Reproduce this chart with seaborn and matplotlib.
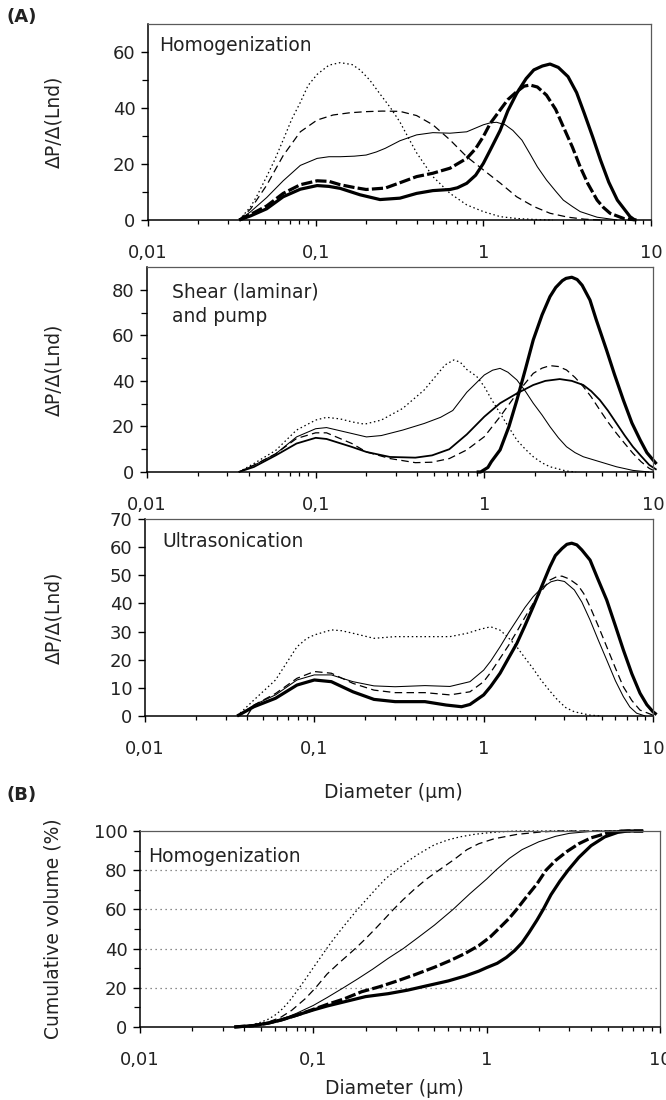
import numpy as np
import pandas as pd
import matplotlib
matplotlib.use("Agg")
import matplotlib.pyplot as plt
from matplotlib.ticker import FixedLocator, FixedFormatter, NullFormatter, LogLocator
import seaborn as sns

# ---------------- data ----------------
x_tick_vals = [0.01, 0.1, 1, 10]
x_tick_labels = ["0,01", "0,1", "1", "10"]

# Panel A1 : Homogenization (size distribution)
h_dot_x = [0.035, 0.041, 0.045, 0.051, 0.057, 0.064, 0.072, 0.081, 0.09, 0.102, 0.12, 0.14, 0.165, 0.184, 0.21, 0.242, 0.28, 0.318, 0.36, 0.40, 0.45, 0.50, 0.633, 0.796, 1.0, 1.26, 1.6, 2.0, 2.6]
h_dot_y = [0, 4.8, 9, 15.5, 21.5, 28.6, 36, 42, 48, 52, 55.3, 56.2, 55.5, 53.6, 50, 45, 40, 35, 29, 24, 19.5, 15.5, 9.5, 5.4, 3, 1.2, 0.5, 0.2, 0]
h_dash_x = [0.035, 0.041, 0.051, 0.064, 0.081, 0.102, 0.127, 0.16, 0.2, 0.25, 0.318, 0.40, 0.5, 0.633, 0.796, 1.0, 1.26, 1.58, 2.0, 2.5, 3.2, 4.0, 5.0]
h_dash_y = [0, 4, 12.4, 23, 31.5, 35.7, 37.5, 38.3, 38.7, 38.9, 38.8, 37.3, 34, 28.6, 22.6, 17.9, 13.2, 8.3, 4.8, 2.4, 1, 0.3, 0]
h_thin_x = [0.035, 0.041, 0.051, 0.064, 0.081, 0.102, 0.12, 0.14, 0.17, 0.2, 0.23, 0.26, 0.318, 0.4, 0.5, 0.633, 0.796, 1.0, 1.1, 1.2, 1.35, 1.5, 1.7, 1.89, 2.1, 2.38, 2.7, 3.0, 3.4, 3.78, 4.77, 6.3]
h_thin_y = [0, 3, 8, 14, 19.5, 22, 22.6, 22.6, 22.8, 23.2, 24.3, 25.6, 28.3, 30.4, 31.2, 31, 31.5, 34, 34.7, 34.9, 34, 32, 28.5, 23.8, 19, 14.3, 10.3, 7.1, 4.8, 3, 1, 0]
h_thickdash_x = [0.035, 0.041, 0.051, 0.064, 0.081, 0.102, 0.12, 0.14, 0.17, 0.2, 0.26, 0.318, 0.4, 0.5, 0.633, 0.796, 0.9, 1.0, 1.1, 1.26, 1.4, 1.58, 1.75, 1.9, 2.1, 2.38, 2.7, 3.0, 3.4, 3.78, 4.2, 4.77, 5.2, 5.7, 6.9, 8.2]
h_thickdash_y = [0, 2, 5, 9.5, 12.6, 14, 13.8, 12.6, 11.6, 10.9, 11.4, 13.3, 15.5, 16.7, 18.5, 22, 25.5, 29.8, 34.5, 39.3, 43, 45.8, 47.8, 48.2, 47.5, 44.6, 39.5, 33.3, 26, 19, 13, 7.1, 4.5, 2.4, 0.5, 0]
h_thick_x = [0.035, 0.041, 0.051, 0.064, 0.081, 0.102, 0.12, 0.14, 0.184, 0.242, 0.318, 0.4, 0.5, 0.633, 0.7, 0.796, 0.9, 1.0, 1.1, 1.26, 1.4, 1.58, 1.8, 2.0, 2.25, 2.5, 2.8, 3.2, 3.6, 4.0, 4.5, 5.0, 5.6, 6.3, 7.5, 8.0]
h_thick_y = [0, 1.5, 4, 8.3, 11, 12.3, 12, 11.3, 9, 7.3, 7.8, 9.5, 10.5, 10.9, 11.5, 13.1, 16, 20.2, 25, 32, 39, 45.2, 50.5, 53.6, 55, 55.7, 54.5, 51.2, 45.5, 38.1, 29.5, 21.4, 13.5, 7.1, 1.2, 0]

# Panel A2 : Shear (laminar) and pump
s_dot_x = [0.035, 0.043, 0.058, 0.077, 0.1, 0.116, 0.14, 0.164, 0.195, 0.245, 0.328, 0.44, 0.585, 0.66, 0.72, 0.787, 0.9, 1.0, 1.1, 1.24, 1.4, 1.56, 1.75, 1.95, 2.2, 2.45, 3.07, 3.5]
s_dot_y = [0, 3.7, 9.5, 18.4, 22.8, 24, 23.3, 22, 21, 22.8, 27.9, 36, 47, 49.2, 48.2, 45, 42, 37.5, 32, 25.8, 19.5, 14, 10, 6.7, 4, 2.3, 0.4, 0]
s_thin_x = [0.035, 0.043, 0.058, 0.077, 0.1, 0.116, 0.164, 0.2, 0.245, 0.328, 0.44, 0.55, 0.65, 0.787, 1.0, 1.12, 1.24, 1.38, 1.56, 1.75, 1.95, 2.2, 2.45, 2.75, 3.07, 3.45, 3.86, 4.84, 6.07, 7.6, 9.5]
s_thin_y = [0, 2.9, 8, 15.4, 19, 19.5, 16.9, 15.4, 16, 18.4, 21.3, 24, 27, 35, 42.6, 44.7, 45.5, 43.8, 40.4, 35.5, 30.2, 25, 19.9, 15, 11.1, 8.5, 6.7, 4.5, 2.3, 0.7, 0]
s_dash_x = [0.035, 0.043, 0.058, 0.077, 0.1, 0.116, 0.164, 0.2, 0.276, 0.39, 0.49, 0.62, 0.787, 1.0, 1.24, 1.56, 1.95, 2.2, 2.45, 2.75, 3.07, 3.45, 3.86, 4.3, 4.84, 5.4, 6.07, 6.8, 7.6, 8.5, 9.5, 10]
s_dash_y = [0, 3, 8, 14.7, 17.2, 17.2, 12.5, 8.8, 5.9, 4.1, 4.3, 5.9, 9.7, 15.5, 24.3, 34.5, 43.3, 45.6, 46.7, 46.3, 44.8, 41.5, 37.5, 33, 27.2, 22, 17, 12.5, 8.2, 4.5, 1.6, 0.8]
s_med_x = [0.035, 0.043, 0.058, 0.077, 0.1, 0.116, 0.164, 0.2, 0.276, 0.39, 0.49, 0.62, 0.787, 1.0, 1.24, 1.56, 1.95, 2.3, 2.8, 3.3, 3.86, 4.3, 4.84, 5.4, 6.07, 6.8, 7.6, 8.5, 9.5, 10.5]
s_med_y = [0, 2.2, 7.3, 12.5, 15, 14.5, 11, 8.8, 6.6, 6.3, 7.3, 10, 16.5, 24.3, 30.2, 34.5, 38.2, 40, 40.8, 40, 38.2, 35.5, 31.6, 27, 21.4, 16, 11.1, 7, 3.1, 1]
s_thick_x = [0.9, 0.95, 1.05, 1.1, 1.24, 1.4, 1.56, 1.75, 1.95, 2.2, 2.45, 2.65, 2.9, 3.05, 3.3, 3.55, 3.8, 4.23, 4.6, 5.3, 5.9, 6.67, 7.5, 8.4, 9.2, 10, 10.5]
s_thick_y = [0, 0, 2, 4.5, 9.7, 20, 31.6, 45, 58, 69, 77, 81, 84, 85, 85.5, 84.5, 82, 75.5, 67, 53.6, 43, 31.6, 21.5, 14, 8.5, 5.3, 3.5]

# Panel A3 : Ultrasonication
u_dot_x = [0.035, 0.044, 0.059, 0.079, 0.09, 0.1, 0.126, 0.145, 0.169, 0.225, 0.3, 0.45, 0.632, 0.8, 0.95, 1.1, 1.25, 1.38, 1.55, 1.73, 1.95, 2.18, 2.45, 2.73, 3.05, 3.43, 4.25, 5.0]
u_dot_y = [0, 5.7, 12.8, 24.6, 27.5, 28.8, 30.6, 30.3, 29.4, 27.6, 28.2, 28.2, 28.2, 29.4, 30.8, 31.7, 30.5, 28.2, 25, 21.1, 17, 12.8, 9, 5.7, 3, 1.5, 0.3, 0]
u_thin_x = [0.035, 0.044, 0.059, 0.079, 0.1, 0.126, 0.169, 0.225, 0.3, 0.45, 0.632, 0.83, 1.0, 1.1, 1.25, 1.4, 1.57, 1.75, 1.96, 2.2, 2.5, 2.73, 3.0, 3.43, 3.8, 4.25, 4.75, 5.33, 6.0, 6.68, 7.3, 8.0, 9.0]
u_thin_y = [0, 3.9, 7.5, 12.8, 14.6, 14.6, 12.2, 10.7, 10.4, 10.8, 10.5, 12.2, 16.3, 19.5, 24.6, 29.5, 34.1, 38.5, 42.4, 45.5, 47.7, 48.3, 47.8, 44.8, 40.5, 34.1, 27, 19.9, 12.5, 6.9, 3.2, 1, 0]
u_dash_x = [0.04, 0.044, 0.059, 0.079, 0.1, 0.126, 0.169, 0.225, 0.3, 0.45, 0.632, 0.83, 1.0, 1.1, 1.25, 1.4, 1.57, 1.75, 1.96, 2.2, 2.46, 2.7, 2.9, 3.2, 3.6, 3.9, 4.25, 4.75, 5.33, 6.0, 6.68, 7.5, 8.38, 10.0]
u_dash_y = [0, 3.9, 8, 13.4, 15.8, 15.2, 11.6, 9.2, 8.3, 8.3, 7.5, 8.6, 12.2, 15.5, 20.5, 25, 30, 35, 40, 44.5, 48.3, 49.5, 49.7, 48.7, 46.5, 43.5, 38.8, 32, 24.6, 17, 10.4, 5.5, 2.1, 0.3]
u_thick_x = [0.035, 0.044, 0.059, 0.079, 0.1, 0.126, 0.169, 0.225, 0.3, 0.45, 0.6, 0.74, 0.83, 1.0, 1.1, 1.25, 1.4, 1.57, 1.75, 1.96, 2.2, 2.46, 2.65, 2.9, 3.1, 3.31, 3.55, 3.8, 4.25, 4.7, 5.33, 6.0, 6.68, 7.5, 8.38, 9.2, 10.0, 10.5]
u_thick_y = [0, 3.3, 6.3, 11, 12.8, 12.2, 8.6, 5.9, 5.1, 5.1, 3.9, 3.3, 4.1, 7.5, 10.5, 15.2, 20.5, 25.8, 32, 38.8, 46, 53, 57, 59.5, 61, 61.4, 60.8, 59, 55.4, 49, 41.2, 32, 23.5, 15, 8.1, 4, 1.5, 0.5]

# Panel B : Homogenization, cumulative volume
c_dot_x = [0.035, 0.04, 0.045, 0.05, 0.055, 0.06, 0.065, 0.07, 0.075, 0.083, 0.09, 0.1, 0.11, 0.12, 0.13, 0.15, 0.165, 0.18, 0.2, 0.23, 0.26, 0.3, 0.35, 0.4, 0.5, 0.6, 0.7, 0.85, 1.0, 1.2, 1.5, 8.0]
c_dot_y = [0, 0.5, 1.3, 2.5, 4, 6, 8.5, 11.5, 14.7, 20, 24.4, 30.3, 35.5, 40.3, 44.5, 51.5, 56, 60, 64.5, 70.5, 75.5, 80, 84.5, 88, 93, 95.5, 97, 98.3, 99, 99.6, 100, 100]
c_dash_x = [0.035, 0.045, 0.055, 0.065, 0.075, 0.09, 0.103, 0.12, 0.14, 0.16, 0.177, 0.2, 0.23, 0.26, 0.29, 0.33, 0.38, 0.45, 0.54, 0.65, 0.77, 0.9, 1.1, 1.5, 2.0, 2.5, 8.0]
c_dash_y = [0, 0.8, 2.5, 5, 8.5, 14.5, 20, 27, 32.5, 37, 40.5, 45, 50.5, 55.5, 60, 65, 70, 75.5, 80.5, 85.5, 90.5, 93.5, 96, 98.3, 99.4, 100, 100]
c_thin_x = [0.035, 0.045, 0.055, 0.065, 0.08, 0.1, 0.12, 0.149, 0.18, 0.22, 0.27, 0.33, 0.4, 0.5, 0.64, 0.8, 1.0, 1.13, 1.35, 1.6, 2.0, 2.5, 3.0, 4.0, 5.0, 8.0]
c_thin_y = [0, 0.7, 2, 3.8, 7, 11, 15, 20, 24.5, 29.5, 35, 40, 45.5, 52, 60, 68, 75.5, 80, 86, 90.5, 94.5, 97.3, 98.8, 99.8, 100, 100]
c_thickdash_x = [0.035, 0.045, 0.055, 0.065, 0.08, 0.1, 0.12, 0.15, 0.19, 0.24, 0.3, 0.38, 0.5, 0.62, 0.75, 0.9, 1.05, 1.2, 1.35, 1.49, 1.7, 1.95, 2.2, 2.5, 2.9, 3.4, 4.0, 5.0, 6.0, 8.0]
c_thickdash_y = [0, 0.7, 2, 3.6, 6, 9, 11.5, 14.3, 18, 20.5, 23.3, 26.5, 30.5, 34, 37.5, 41.5, 46, 51, 55.5, 60, 66.5, 73, 80, 85, 89.5, 93.5, 96.5, 99, 100, 100]
c_thick_x = [0.035, 0.045, 0.055, 0.065, 0.08, 0.1, 0.12, 0.15, 0.2, 0.27, 0.35, 0.45, 0.6, 0.75, 0.9, 1.0, 1.15, 1.3, 1.45, 1.6, 1.75, 1.95, 2.12, 2.35, 2.65, 2.95, 3.4, 4.0, 4.8, 5.7, 6.5, 8.0]
c_thick_y = [0, 0.7, 2, 3.5, 6, 8.7, 10.7, 12.8, 15.5, 17, 18.8, 21, 23.5, 26, 28.5, 30.3, 32.5, 35.5, 39, 43, 48, 54.5, 60, 67.5, 74.5, 80, 86.5, 92.5, 97, 99.3, 100, 100]

# ---------------- styling ----------------
sns.set_style("ticks")
plt.rcParams['font.family'] = ['DejaVu Sans']
plt.rcParams['axes.linewidth'] = 1.0

STY = {
    'dot':       dict(lw=0.9, ls=(0, (1.2, 2.2))),
    'dash':      dict(lw=0.9, ls=(0, (6, 3.5))),
    'thin':      dict(lw=0.75, ls='-'),
    'med':       dict(lw=1.3, ls='-'),
    'thickdash': dict(lw=2.3, ls=(0, (3.5, 1.0))),
    'thick':     dict(lw=2.3, ls='-'),
}
TXT = '#222222'

W, H = 666, 1100
fig = plt.figure(figsize=(W / 100, H / 100), dpi=100)


def ax_at(l, t, r, b):
    return fig.add_axes([l / W, 1 - b / H, (r - l) / W, (b - t) / H])


def draw(ax, series):
    for xs, ys, st in series:
        df = pd.DataFrame({"d": xs, "v": ys})
        sns.lineplot(data=df, x="d", y="v", ax=ax, color="black",
                     linewidth=STY[st]['lw'], linestyle=STY[st]['ls'],
                     clip_on=False, solid_capstyle='butt', dash_capstyle='butt',
                     solid_joinstyle='round')


def style_axes(ax, ymax, ymajor, yminor, ylabel, label_x):
    ax.set_xscale('log')
    ax.set_xlim(0.01, 10)
    ax.set_ylim(0, ymax)
    ax.xaxis.set_major_locator(FixedLocator(x_tick_vals))
    ax.xaxis.set_major_formatter(FixedFormatter(x_tick_labels))
    ax.xaxis.set_minor_locator(LogLocator(base=10, subs=np.arange(2, 10)))
    ax.xaxis.set_minor_formatter(NullFormatter())
    ax.yaxis.set_major_locator(FixedLocator(ymajor))
    ax.yaxis.set_minor_locator(FixedLocator(yminor))
    ax.tick_params(axis='x', which='major', direction='out', length=4, width=1.0,
                   labelsize=13, pad=13.5, color='black', labelcolor=TXT)
    ax.tick_params(axis='x', which='minor', direction='out', length=3, width=0.9, color='black')
    ax.tick_params(axis='y', which='major', direction='out', length=5, width=1.0,
                   labelsize=13, pad=4, color='black', labelcolor=TXT)
    ax.tick_params(axis='y', which='minor', direction='out', length=4, width=0.9, color='black')
    for s in ['left', 'bottom']:
        ax.spines[s].set_color('black')
        ax.spines[s].set_linewidth(1.1)
    for s in ['top', 'right']:
        ax.spines[s].set_visible(True)
        ax.spines[s].set_color('#5a5a5a')
        ax.spines[s].set_linewidth(0.9)
    ax.set_xlabel('')
    ax.set_ylabel(ylabel, fontsize=13.5, color=TXT)
    ax.yaxis.set_label_coords(label_x, 0.5)


def ftext(x, y, s, **kw):
    fig.text(x / W, 1 - y / H, s, color=TXT, **kw)


# Panel A1
ax1 = ax_at(148, 24, 651, 220)
draw(ax1, [(h_dot_x, h_dot_y, 'dot'), (h_dash_x, h_dash_y, 'dash'),
           (h_thin_x, h_thin_y, 'thin'), (h_thickdash_x, h_thickdash_y, 'thickdash'),
           (h_thick_x, h_thick_y, 'thick')])
style_axes(ax1, 70, [0, 20, 40, 60], [10, 30, 50], 'ΔP/Δ(Lnd)', (63 - 148) / 503)

# Panel A2
ax2 = ax_at(147, 267, 653, 472)
draw(ax2, [(s_dot_x, s_dot_y, 'dot'), (s_thin_x, s_thin_y, 'thin'),
           (s_dash_x, s_dash_y, 'dash'), (s_med_x, s_med_y, 'med'),
           (s_thick_x, s_thick_y, 'thick')])
style_axes(ax2, 90, [0, 20, 40, 60, 80], [10, 30, 50, 70], 'ΔP/Δ(Lnd)', (63 - 147) / 506)

# Panel A3
ax3 = ax_at(145, 519, 653, 716)
draw(ax3, [(u_dot_x, u_dot_y, 'dot'), (u_thin_x, u_thin_y, 'thin'),
           (u_dash_x, u_dash_y, 'dash'), (u_thick_x, u_thick_y, 'thick')])
style_axes(ax3, 70, [0, 10, 20, 30, 40, 50, 60, 70], [], 'ΔP/Δ(Lnd)', (63 - 145) / 508)

# Panel B
axb = ax_at(140, 831, 660, 1027)
axb.yaxis.grid(True, linestyle=(0, (1, 3)), color='#666666', linewidth=0.9)
axb.set_axisbelow(True)
draw(axb, [(c_dot_x, c_dot_y, 'dot'), (c_dash_x, c_dash_y, 'dash'),
           (c_thin_x, c_thin_y, 'thin'), (c_thickdash_x, c_thickdash_y, 'thickdash'),
           (c_thick_x, c_thick_y, 'thick')])
style_axes(axb, 100, [0, 20, 40, 60, 80, 100], [10, 30, 50, 70, 90],
           'Cumulative volume (%)', (63 - 140) / 520)
for gl, val in zip(axb.yaxis.get_gridlines(), [0, 20, 40, 60, 80, 100]):
    if val in (0, 100):
        gl.set_visible(False)

# Texts
ftext(159, 51, 'Homogenization', fontsize=13.5, va='baseline')
ftext(172, 297, 'Shear (laminar)', fontsize=13.5, va='baseline')
ftext(172, 322, 'and pump', fontsize=13.5, va='baseline')
ftext(162, 547, 'Ultrasonication', fontsize=13.5, va='baseline')
ftext(148, 862, 'Homogenization', fontsize=13.5, va='baseline')
ftext(6, 17, '(A)', fontsize=13, fontweight='bold', va='center')
ftext(6, 795, '(B)', fontsize=13, fontweight='bold', va='center')
ftext(393, 792, 'Diameter (µm)', fontsize=13.5, ha='center', va='center')
ftext(394, 1088, 'Diameter (µm)', fontsize=13.5, ha='center', va='center')

fig.savefig('out.png', dpi=100)
